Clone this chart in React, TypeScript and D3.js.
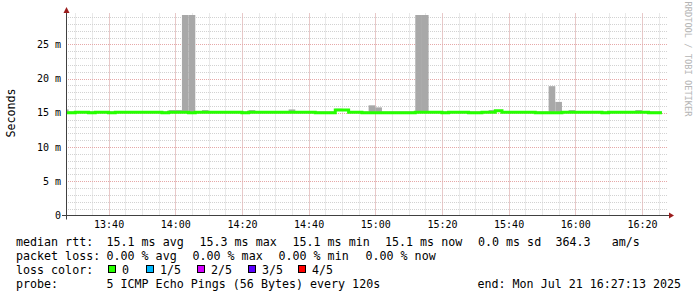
import React from "react";
import * as d3 from "d3";

const W = 697;
const H = 297;

// time window of the graph
const viewStart = new Date(2025, 6, 21, 13, 27, 13);
const viewEnd = new Date(2025, 6, 21, 16, 27, 13);
const firstStep = new Date(2025, 6, 21, 13, 26, 0);
const STEP_MS = 120000;

// median rtt per 120 s step (ms)
const medianRtt = [
  15.0, 15.0, 15.1, 15.1, 15.0, 15.1, 15.1, 15.0, 15.1, 15.1,
  15.1, 15.1, 15.1, 15.1, 15.1, 15.0, 15.1, 15.1, 15.1, 15.0,
  15.1, 15.1, 15.1, 15.1, 15.1, 15.1, 15.1, 15.0, 15.1, 15.1,
  15.1, 15.1, 15.1, 15.1, 15.1, 15.1, 15.1, 15.1, 15.0, 15.0,
  15.0, 15.4, 15.4, 15.1, 15.1, 15.0, 15.0, 15.0, 15.0, 15.0,
  15.0, 15.0, 15.0, 15.1, 15.1, 15.1, 15.1, 15.0, 15.1, 15.1,
  15.1, 15.0, 15.0, 15.1, 15.1, 15.3, 15.1, 15.1, 15.1, 15.1,
  15.1, 15.0, 15.0, 15.0, 15.0, 15.1, 15.1, 15.1, 15.1, 15.1,
  15.1, 15.0, 15.1, 15.1, 15.1, 15.1, 15.1, 15.1, 15.0, 15.0,
];

// slowest ping per step (ms) -> top of the smoke
const smokeMax = [
  15.5, 15.2, 15.2, 15.2, 15.2, 15.2, 15.2, 15.2, 15.2, 15.2,
  15.2, 15.2, 15.2, 15.2, 15.2, 15.2, 15.4, 15.4, 36.8, 35.2,
  15.2, 15.4, 15.2, 15.2, 15.2, 15.2, 15.2, 15.2, 15.4, 15.2,
  15.2, 15.2, 15.2, 15.2, 15.5, 15.2, 15.2, 15.2, 15.2, 15.2,
  15.2, 15.6, 15.2, 15.2, 15.2, 15.2, 16.1, 15.8, 15.2, 15.2,
  15.2, 15.2, 15.2, 40.3, 31.7, 15.2, 15.2, 15.2, 15.2, 15.2,
  15.2, 15.2, 15.2, 15.2, 15.4, 15.4, 15.2, 15.2, 15.2, 15.2,
  15.2, 15.2, 15.2, 18.9, 16.6, 15.2, 15.4, 15.2, 15.2, 15.2,
  15.2, 15.2, 15.2, 15.2, 15.2, 15.2, 15.4, 15.2, 15.2, 15.2,
];

const yMax = 29.3;
const yTicks = [0, 5, 10, 15, 20, 25];
const yTickLabels = ["0", "5 m", "10 m", "15 m", "20 m", "25 m"];
const xTickLabels = ["13:40", "14:00", "14:20", "14:40", "15:00", "15:20", "15:40", "16:00", "16:20"];

const lossLabels = ["0", "1/5", "2/5", "3/5", "4/5"];
const lossColors = ["#26ff00", "#00b8ff", "#d400ff", "#5a00ff", "#ff0000"];

const legendRtt = ["median rtt:", "15.1 ms avg", "15.3 ms max", "15.1 ms min", "15.1 ms now", "0.0 ms sd", "364.3   am/s"];
const legendLoss = ["packet loss:", "0.00 % avg", "0.00 % max", "0.00 % min", "0.00 % now"];
const probeText = ["probe:", "5 ICMP Echo Pings (56 Bytes) every 120s"];
const endText = "end: Mon Jul 21 16:27:13 2025";

const MONO = "'DejaVu Sans Mono', monospace";

export default function App() {
  const left = 66;
  const right = 666;
  const top = 15;
  const bottom = 215.5;

  const x = d3.scaleTime().domain([viewStart, viewEnd]).range([left, right]);
  const y = d3.scaleLinear().domain([0, yMax]).range([bottom, top]);
  const snap = (v: number) => Math.round(v) + 0.5;

  const stepTime = (k: number) => new Date(firstStep.getTime() + k * STEP_MS);

  const minorX = d3.timeMinute.every(5)!.range(viewStart, viewEnd);
  const majorX = d3.timeMinute.every(20)!.range(viewStart, viewEnd);
  const minorY = d3.range(1, Math.floor(yMax) + 1).filter((v) => v % 5 !== 0);
  const majorY = yTicks.filter((v) => v > 0);

  const linePts: [Date, number][] = medianRtt.map((v, k) => [stepTime(k), v]);
  linePts.push([stepTime(medianRtt.length), medianRtt[medianRtt.length - 1]]);
  const line = d3
    .line<[Date, number]>()
    .x((d) => x(d[0]))
    .y((d) => y(d[1]))
    .curve(d3.curveStepAfter);

  const xTickDates = xTickLabels.map((s) => {
    const [hh, mm] = s.split(":").map(Number);
    return new Date(2025, 6, 21, hh, mm, 0);
  });

  const rttX = [16, 106.5, 199.5, 292.5, 385, 478, 555.5];
  const lossX = [16, 106.5, 192.5, 278.5, 365.5];
  const swatchX = [108, 146, 197, 248, 298];
  const lineY = [245.5, 259.5, 273.5, 287.5];

  return (
    <svg
      width={W}
      height={H}
      style={{ position: "absolute", left: 0, top: 0, background: "#ffffff" }}
      xmlns="http://www.w3.org/2000/svg"
    >
      <defs>
        <clipPath id="plot">
          <rect x={left} y={top} width={right - left} height={bottom - top} />
        </clipPath>
      </defs>
      <rect x={0} y={0} width={W} height={H} fill="#ffffff" />

      {/* minor grid */}
      <g stroke="#d2d2d2" strokeWidth={1} strokeDasharray="1,1">
        {minorX.map((t, i) => (
          <line key={"mx" + i} x1={snap(x(t))} x2={snap(x(t))} y1={bottom} y2={top - 2} />
        ))}
        {minorY.map((v, i) => (
          <line key={"my" + i} x1={left} x2={right + 2} y1={snap(y(v))} y2={snap(y(v))} />
        ))}
      </g>
      {/* major grid */}
      <g stroke="#e6a8a8" strokeWidth={1} strokeDasharray="1,1">
        {majorX.map((t, i) => (
          <line key={"Mx" + i} x1={snap(x(t))} x2={snap(x(t))} y1={bottom} y2={top - 2} />
        ))}
        {majorY.map((v, i) => (
          <line key={"My" + i} x1={left} x2={right + 2} y1={snap(y(v))} y2={snap(y(v))} />
        ))}
      </g>

      {/* smoke */}
      <g clipPath="url(#plot)" fill="#a8a8a8">
        {smokeMax.map((m, k) => {
          const x0 = x(stepTime(k));
          const x1 = x(stepTime(k + 1));
          const yTop = y(m);
          const yBot = y(medianRtt[k]);
          if (yBot - yTop <= 0) return null;
          return <rect key={"s" + k} x={x0} y={yTop} width={x1 - x0} height={yBot - yTop} />;
        })}
      </g>

      {/* median line */}
      <g clipPath="url(#plot)">
        <path d={line(linePts) || ""} fill="none" stroke={lossColors[0]} strokeWidth={3} />
      </g>

      {/* axes */}
      <line x1={left + 0.5} x2={left + 0.5} y1={bottom + 4} y2={top - 4} stroke="#404040" strokeWidth={1} />
      <line x1={left - 4} x2={right + 4} y1={bottom} y2={bottom} stroke="#404040" strokeWidth={1} />
      <path
        d={`M${left + 0.5},${top - 8} L${left - 2.5},${top - 2} L${left + 3.5},${top - 2} Z`}
        fill="#9b1c1c"
      />
      <path
        d={`M${right + 8},${bottom} L${right + 3},${bottom - 3} L${right + 3},${bottom + 3} Z`}
        fill="#9b1c1c"
      />

      {/* y tick labels */}
      <g fontFamily={MONO} fontSize={10} fill="#000" textAnchor="end">
        {yTicks.map((v, i) => (
          <text key={"yl" + i} x={61} y={y(v) + 3.5}>
            {yTickLabels[i]}
          </text>
        ))}
      </g>
      {/* x tick labels */}
      <g fontFamily={MONO} fontSize={10} fill="#000" textAnchor="middle">
        {xTickDates.map((t, i) => (
          <text key={"xl" + i} x={x(t) + 0.5} y={228}>
            {xTickLabels[i]}
          </text>
        ))}
      </g>

      {/* y axis title */}
      <text
        transform="translate(15,113) rotate(-90)"
        fontFamily={MONO}
        fontSize={11.67}
        textAnchor="middle"
        fill="#000"
      >
        Seconds
      </text>

      {/* watermark */}
      <text
        transform="translate(685,59) rotate(90)"
        fontFamily={MONO}
        fontSize={8.7}
        textAnchor="middle"
        fill="#b4b4b4"
      >
        RRDTOOL / TOBI OETIKER
      </text>

      {/* legend */}
      <g fontFamily={MONO} fontSize={11.67} fill="#000" style={{ whiteSpace: "pre" }}>
        {legendRtt.map((s, i) => (
          <text key={"r" + i} x={rttX[i]} y={lineY[0]} xmlSpace="preserve">
            {s}
          </text>
        ))}
        {legendLoss.map((s, i) => (
          <text key={"l" + i} x={lossX[i]} y={lineY[1]} xmlSpace="preserve">
            {s}
          </text>
        ))}
        <text x={16} y={lineY[2]}>loss color:</text>
        {lossLabels.map((s, i) => (
          <g key={"c" + i}>
            <rect x={swatchX[i] + 0.5} y={265.5} width={7} height={7} fill={lossColors[i]} stroke="#000" strokeWidth={1} />
            <text x={swatchX[i] + 14} y={lineY[2]}>
              {s}
            </text>
          </g>
        ))}
        <text x={16} y={lineY[3]}>{probeText[0]}</text>
        <text x={106.5} y={lineY[3]}>{probeText[1]}</text>
        <text x={681} y={lineY[3]} textAnchor="end">
          {endText}
        </text>
      </g>
    </svg>
  );
}
